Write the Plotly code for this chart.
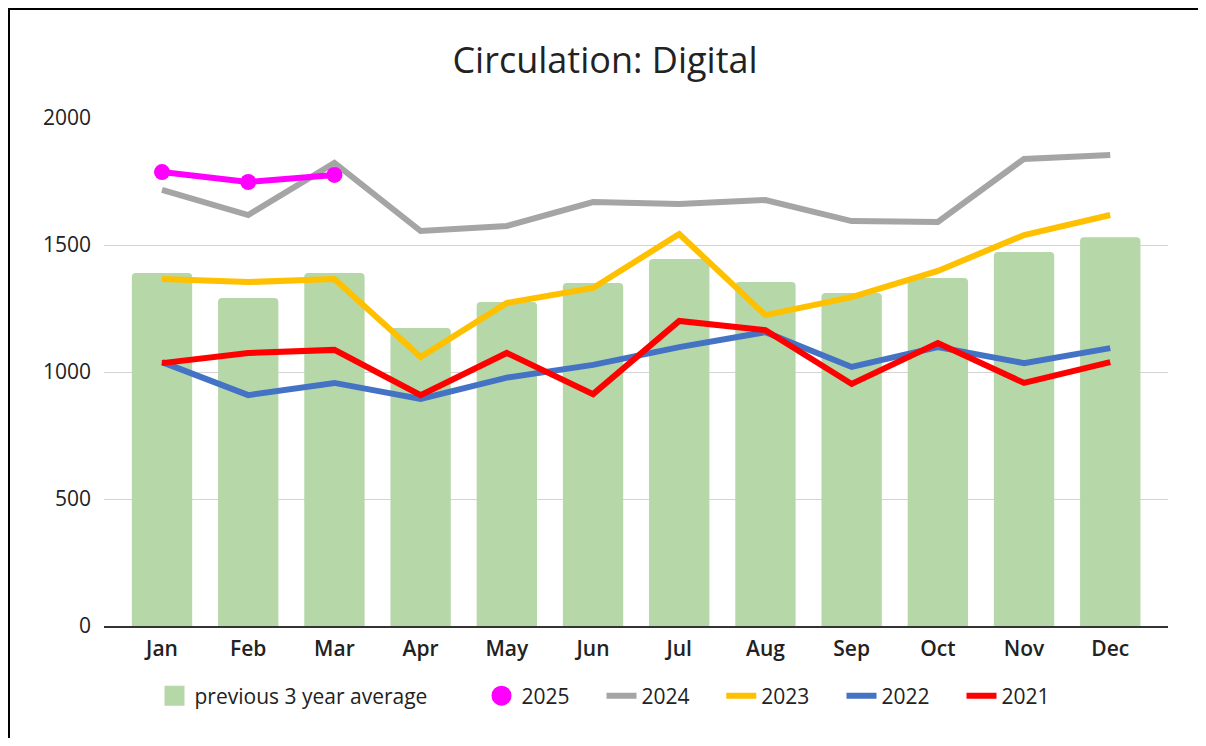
import plotly.graph_objects as go

months = ["Jan", "Feb", "Mar", "Apr", "May", "Jun", "Jul", "Aug", "Sep", "Oct", "Nov", "Dec"]
avg3 = [1390, 1291, 1390, 1173, 1276, 1350, 1445, 1354, 1311, 1370, 1472, 1531]
y2025 = [1787, 1748, 1776]
y2024 = [1717, 1618, 1823, 1555, 1575, 1669, 1661, 1677, 1594, 1591, 1839, 1854]
y2023 = [1366, 1354, 1366, 1059, 1272, 1331, 1543, 1224, 1295, 1398, 1539, 1618]
y2022 = [1039, 909, 957, 894, 978, 1028, 1098, 1157, 1020, 1098, 1035, 1094]
y2021 = [1035, 1075, 1087, 909, 1075, 913, 1201, 1165, 953, 1114, 957, 1039]

FONT = "Open Sans"
TXT = "#222222"
GREEN = "#b6d7a8"
MAGENTA = "#ff00ff"

# page offset of the figure inside the browser (default body margin)
OFF = 8
W, H = 1198, 730
L, T = 104 - OFF, 118 - OFF
R = W - (1168 - OFF)
B = H - (626 - OFF)
pw, ph = W - L - R, H - T - B


def px_x(p):
    return (p - OFF - L) / pw


def px_y(p):
    return (H - B - (p - OFF)) / ph


fig = go.Figure()
line_w = 6

fig.add_trace(go.Bar(x=months, y=avg3, name="previous 3 year average",
                     marker=dict(color=GREEN, cornerradius=4, line=dict(width=0)),
                     width=0.7, legendgroup="avg", showlegend=False))
fig.add_trace(go.Scatter(x=[None], y=[None], name="previous 3 year average", mode="markers",
                         marker=dict(color=GREEN, symbol="square", size=16,
                                     line=dict(color=GREEN, width=4)),
                         legendgroup="avg", legend="legend"))
fig.add_trace(go.Scatter(x=months, y=y2022, name="2022", mode="lines",
                         line=dict(color="#4472c4", width=line_w), legend="legend5"))
fig.add_trace(go.Scatter(x=months, y=y2021, name="2021", mode="lines",
                         line=dict(color="#ff0000", width=line_w), legend="legend6"))
fig.add_trace(go.Scatter(x=months, y=y2023, name="2023", mode="lines",
                         line=dict(color="#ffc000", width=line_w), legend="legend4"))
fig.add_trace(go.Scatter(x=months, y=y2024, name="2024", mode="lines",
                         line=dict(color="#a5a5a5", width=line_w), legend="legend3"))
fig.add_trace(go.Scatter(x=months[:len(y2025)], y=y2025, name="2025", mode="lines+markers",
                         line=dict(color=MAGENTA, width=line_w),
                         marker=dict(color=MAGENTA, size=16),
                         legendgroup="2025", showlegend=False))
fig.add_trace(go.Scatter(x=[None], y=[None], name="2025", mode="markers",
                         marker=dict(color=MAGENTA, size=16, line=dict(color=MAGENTA, width=4)),
                         legendgroup="2025", legend="legend2"))

legend_font = dict(family=FONT, size=21, color=TXT)
# (symbol centre, text start) in reference page pixels
legend_pos = [(170, 199), (498, 525), (618, 645), (737.5, 765), (858, 885), (978, 1005)]
legends = {}
for i, (s, t) in enumerate(legend_pos):
    key = "legend" if i == 0 else f"legend{i + 1}"
    legends[key] = dict(orientation="h", x=px_x((s + t) / 2 - 30), xanchor="left",
                        y=px_y(696), yanchor="middle", font=legend_font,
                        itemwidth=30, bgcolor="rgba(0,0,0,0)", borderwidth=0,
                        itemsizing="trace")

bx0 = (1 - L) / pw
bx1 = (W - 3 - L) / pw
by_top, by_bot = (H - B - 1) / ph, (H - B - H - 20) / ph
border_path = f"M {bx0},{by_bot} L {bx0},{by_top} L {bx1},{by_top}"
border = dict(color="black", width=2)

fig.update_layout(
    width=W, height=H,
    margin=dict(l=L, r=R, t=T, b=B, pad=0),
    paper_bgcolor="white", plot_bgcolor="white",
    font=dict(family=FONT, color=TXT),
    title=dict(text="Circulation: Digital", x=(605 - OFF) / W, xanchor="center", xref="container",
               y=1 - (60 - OFF) / H, yanchor="middle", yref="container",
               font=dict(family=FONT, size=36, color=TXT)),
    showlegend=True,
    xaxis=dict(range=[-0.673, 11.67], showgrid=False, showline=True, linecolor="#333333",
               linewidth=1.5, ticks="", ticklabelstandoff=3,
               tickfont=dict(family=FONT, size=21, weight=600, color=TXT)),
    yaxis=dict(range=[0, 2000], tickvals=[0, 500, 1000, 1500, 2000], showgrid=True,
               gridcolor="#d4d4d4", gridwidth=1, zeroline=False, showline=False,
               ticks="", ticklabelstandoff=12,
               tickfont=dict(family=FONT, size=21, color=TXT)),
    shapes=[dict(type="path", xref="paper", yref="paper", path=border_path,
                 line=border, fillcolor="rgba(0,0,0,0)", layer="above"),
            dict(type="line", xref="paper", yref="paper", x0=bx1, x1=bx1, y0=by_top, y1=by_bot,
                 line=border, layer="above")],
    **legends,
)

fig.write_html("out.html")
